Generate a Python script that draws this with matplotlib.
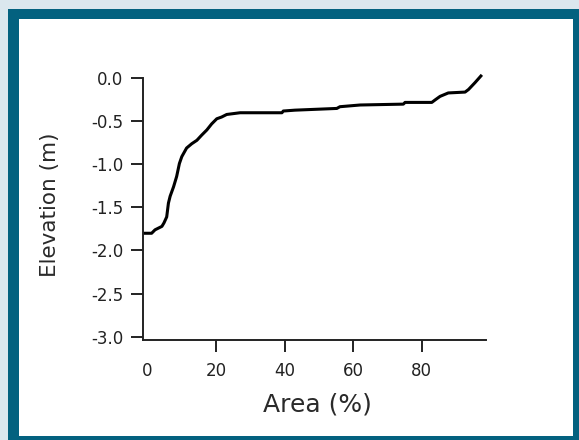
import matplotlib
matplotlib.use("Agg")
import matplotlib.pyplot as plt
from matplotlib.patches import Rectangle

# --- data ---
area_pct = [-1.2, 1.2, 2.2, 4.2, 4.8, 5.6, 6.1, 6.6, 7.6, 8.5, 9.3, 10.0, 11.4,
            12.9, 14.4, 15.8, 17.3, 18.7, 20.2, 21.6, 23.1, 27.0, 39.2, 39.6,
            43.0, 55.2, 56.1, 62.0, 74.6, 75.1, 82.9, 83.9, 85.3, 87.7, 92.6,
            93.6, 95.5, 97.5]
elevation_m = [-1.80, -1.80, -1.76, -1.72, -1.68, -1.61, -1.45, -1.37, -1.26,
               -1.14, -0.99, -0.91, -0.81, -0.76, -0.72, -0.66, -0.60, -0.53,
               -0.47, -0.45, -0.42, -0.40, -0.40, -0.38, -0.37, -0.35, -0.33,
               -0.31, -0.30, -0.28, -0.28, -0.25, -0.21, -0.17, -0.16, -0.13,
               -0.05, 0.04]

x_ticks = [0, 20, 40, 60, 80]
x_tick_labels = ["0", "20", "40", "60", "80"]
y_ticks = [0.0, -0.5, -1.0, -1.5, -2.0, -2.5, -3.0]
y_tick_labels = ["0.0", "-0.5", "-1.0", "-1.5", "-2.0", "-2.5", "-3.0"]

W, H = 579, 440
ink = "#222222"

fig = plt.figure(figsize=(W / 100, H / 100), dpi=100)
fig.patch.set_facecolor("#dbe7ee")

# page frame: dark teal border around a white panel
fig.add_artist(Rectangle((8 / W, 0), 1 - 8 / W, (H - 9) / H,
                         transform=fig.transFigure, facecolor="#03617f",
                         edgecolor="none", zorder=0))
fig.add_artist(Rectangle((19 / W, 4 / H), (573 - 19) / W, (436 - 19) / H,
                         transform=fig.transFigure, facecolor="white",
                         edgecolor="none", zorder=0))

ax = fig.add_axes([142.7 / W, 1 - 340 / H, (486 - 142.7) / W, 270.3 / H])
ax.patch.set_alpha(0)

ax.plot(area_pct, elevation_m, color="black", lw=2.2, solid_capstyle="butt",
        clip_on=False)

ax.set_xlim(-1.4, 98.7)
ax.set_ylim(-3.04, 0.1)

for s in ["top", "right"]:
    ax.spines[s].set_visible(False)
for s in ["left", "bottom"]:
    ax.spines[s].set_linewidth(1.4)
    ax.spines[s].set_color(ink)
ax.spines["left"].set_bounds(-3.04, 0.0)

ax.set_xticks(x_ticks)
ax.set_xticklabels(x_tick_labels)
ax.set_yticks(y_ticks)
ax.set_yticklabels(y_tick_labels)
ax.tick_params(axis="both", direction="out", length=8.5, width=1.4,
               color=ink, labelcolor=ink, labelsize=12)
ax.tick_params(axis="x", pad=7.5)
ax.tick_params(axis="y", pad=5.5)
ax.xaxis.get_major_ticks()[0].tick1line.set_visible(False)

ax.set_ylabel("Elevation (m)", fontsize=15.5, color="#2a2a2a", va="center")
ax.yaxis.set_label_coords(-0.27, 0.5)
ax.set_xlabel("Area (%)", fontsize=18, color="#2a2a2a", va="center")
ax.xaxis.set_label_coords(0.51, -0.237)

fig.savefig("out.png", dpi=100, facecolor=fig.get_facecolor())
